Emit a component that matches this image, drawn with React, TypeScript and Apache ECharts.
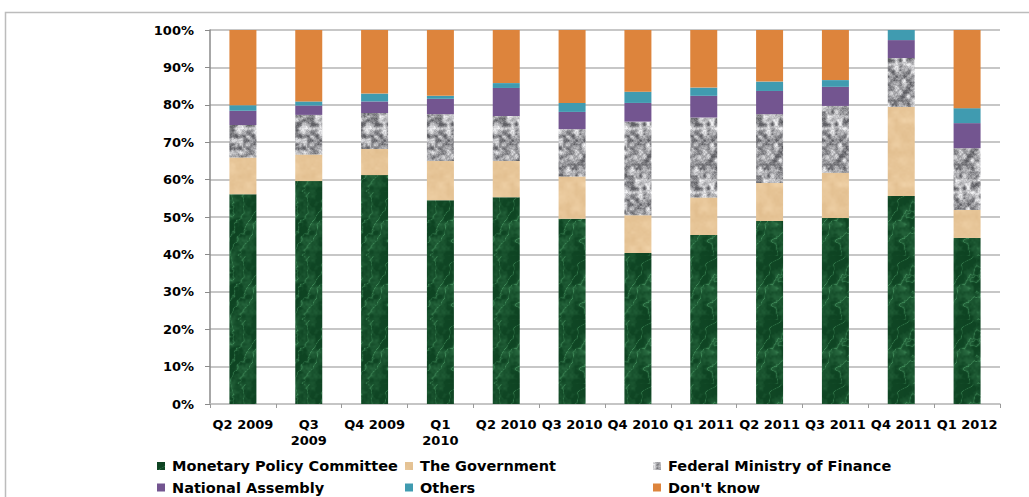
import React, { useEffect, useRef } from "react";
import * as echarts from "echarts";

const categories = [
  "Q2 2009", "Q3 2009", "Q4 2009", "Q1 2010", "Q2 2010", "Q3 2010",
  "Q4 2010", "Q1 2011", "Q2 2011", "Q3 2011", "Q4 2011", "Q1 2012",
];
const wrappedLabels = ["Q3 2009", "Q1 2010"];

const monetaryPolicyCommittee = [56.1, 59.6, 61.2, 54.5, 55.3, 49.5, 40.4, 45.2, 48.9, 49.7, 55.6, 44.4];
const theGovernment = [9.8, 7.1, 7.0, 10.5, 9.7, 11.3, 10.1, 10.0, 10.2, 12.1, 23.8, 7.5];
const federalMinistryOfFinance = [8.7, 10.6, 9.6, 12.5, 12.0, 12.7, 25.0, 21.4, 18.4, 17.9, 13.1, 16.5];
const nationalAssembly = [3.8, 2.5, 3.1, 4.1, 7.5, 4.6, 5.0, 5.8, 6.2, 5.1, 4.8, 6.7];
const others = [1.5, 1.1, 2.1, 0.8, 1.3, 2.4, 3.0, 2.2, 2.5, 1.8, 2.7, 4.0];
const dontKnow = [20.1, 19.1, 17.0, 17.6, 14.2, 19.5, 16.5, 15.4, 13.8, 13.4, 0, 20.9];

const seriesNames = [
  "Monetary Policy Committee",
  "The Government",
  "Federal Ministry of Finance",
  "National Assembly",
  "Others",
  "Don't know",
];

function hash(ix: number, iy: number, seed: number) {
  const s = Math.sin(ix * 127.1 + iy * 311.7 + seed * 74.7) * 43758.5453;
  return s - Math.floor(s);
}
function vnoise(x: number, y: number, period: number, seed: number) {
  const x0 = Math.floor(x), y0 = Math.floor(y);
  const fx = x - x0, fy = y - y0;
  const sx = fx * fx * (3 - 2 * fx), sy = fy * fy * (3 - 2 * fy);
  const m = (a: number) => ((a % period) + period) % period;
  const a = hash(m(x0), m(y0), seed), b = hash(m(x0 + 1), m(y0), seed);
  const c = hash(m(x0), m(y0 + 1), seed), d = hash(m(x0 + 1), m(y0 + 1), seed);
  return (a + (b - a) * sx) * (1 - sy) + (c + (d - c) * sx) * sy;
}
function fbm(x: number, y: number, size: number, cells: number, oct: number, seed: number) {
  let sum = 0, amp = 0.5, tot = 0, cl = cells;
  for (let o = 0; o < oct; o++) {
    sum += amp * vnoise((x / size) * cl, (y / size) * cl, cl, seed + o);
    tot += amp;
    amp *= 0.5;
    cl *= 2;
  }
  return sum / tot;
}
function makeTile(size: number, fn: (x: number, y: number) => number[]) {
  const c = document.createElement("canvas");
  c.width = size;
  c.height = size;
  const ctx = c.getContext("2d")!;
  const img = ctx.createImageData(size, size);
  for (let y = 0; y < size; y++) {
    for (let x = 0; x < size; x++) {
      const [r, g, b] = fn(x, y);
      const i = (y * size + x) * 4;
      img.data[i] = r;
      img.data[i + 1] = g;
      img.data[i + 2] = b;
      img.data[i + 3] = 255;
    }
  }
  ctx.putImageData(img, 0, 0);
  return c;
}
const mix = (a: number[], b: number[], t: number) => a.map((v, i) => Math.round(v + (b[i] - v) * t));

function patterns() {
  const S = 64;
  const green = makeTile(S, (x, y) => {
    const n = fbm(x, y, S, 4, 4, 1);
    const n2 = fbm(x, y, S, 8, 3, 3);
    const v = 1 - Math.abs(Math.sin(((x + y * 0.6) / S) * Math.PI * 4 + n * 9));
    const t = Math.min(1, Math.pow(v, 5) * 0.55 + Math.max(0, n2 - 0.45) * 0.9 + n * 0.15);
    return mix([10, 62, 30], [72, 150, 98], t);
  });
  const tan = makeTile(S, (x, y) => {
    const n = fbm(x, y, S, 8, 3, 5);
    return mix([224, 188, 140], [240, 210, 168], n);
  });
  const gray = makeTile(S, (x, y) => {
    const n = fbm(x, y, S, 16, 3, 9);
    const t = Math.min(1, Math.max(0, (n - 0.2) * 1.6));
    return mix([95, 95, 100], [240, 240, 242], t);
  });
  const p = (c: HTMLCanvasElement) => ({ image: c, repeat: "repeat", imageWidth: S, imageHeight: S });
  return [p(green), p(tan), p(gray), "#735590", "#409bb0", "#dd843c"];
}

export default function App() {
  const ref = useRef<HTMLDivElement>(null);
  useEffect(() => {
    document.body.style.margin = "0";
    if (!ref.current) return;
    const chart = echarts.init(ref.current, undefined, { renderer: "svg" });
    const colors = patterns();
    const data = [monetaryPolicyCommittee, theGovernment, federalMinistryOfFinance, nationalAssembly, others, dontKnow];
    const font = "DejaVu Sans";
    const legendBase = {
      orient: "vertical",
      top: 458,
      itemWidth: 8,
      itemHeight: 8,
      itemGap: 5.5,
      icon: "rect",
      textStyle: { fontFamily: font, fontWeight: "bold", fontSize: 14.5, color: "#000", lineHeight: 16, padding: [0, 0, 0, 2] },
      padding: 0,
    };
    chart.setOption({
      animation: false,
      grid: { left: 210, right: 29, top: 30, bottom: 93 },
      graphic: [
        {
          type: "rect",
          shape: { x: 5.5, y: 12.5, width: 1200, height: 700 },
          style: { fill: "none", stroke: "#bcbcbc", lineWidth: 1.5 },
          silent: true,
        },
      ],
      legend: [
        { ...legendBase, left: 157, data: [seriesNames[0], seriesNames[3]] },
        { ...legendBase, left: 405, data: [seriesNames[1], seriesNames[4]] },
        { ...legendBase, left: 653, data: [seriesNames[2], seriesNames[5]] },
      ],
      xAxis: {
        type: "category",
        data: categories,
        axisLine: { lineStyle: { color: "#c4c4c4", width: 1.5 } },
        axisTick: { show: true, length: 4, lineStyle: { color: "#9a9a9a" } },
        axisLabel: {
          interval: 0,
          margin: 12,
          fontFamily: font,
          fontWeight: "bold",
          fontSize: 13,
          color: "#000",
          lineHeight: 16,
          formatter: (v: string) => (wrappedLabels.includes(v) ? v.replace(" ", "\n") : v),
        },
      },
      yAxis: {
        type: "value",
        min: 0,
        max: 100,
        interval: 10,
        axisLine: { show: true, lineStyle: { color: "#8a8a8a", width: 1.5 } },
        axisTick: { show: true, length: 5, lineStyle: { color: "#8a8a8a" } },
        splitLine: { lineStyle: { color: "#b4b4b4", width: 1.5 } },
        axisLabel: {
          margin: 16,
          fontFamily: font,
          fontWeight: "bold",
          fontSize: 13,
          color: "#000",
          formatter: "{value}%",
        },
      },
      series: seriesNames.map((name, i) => ({
        name,
        type: "bar",
        stack: "total",
        barWidth: "41%",
        data: data[i],
        itemStyle: { color: colors[i] },
        emphasis: { disabled: true },
      })),
    });
    return () => chart.dispose();
  }, []);
  return <div ref={ref} style={{ width: 1029, height: 497 }} />;
}
